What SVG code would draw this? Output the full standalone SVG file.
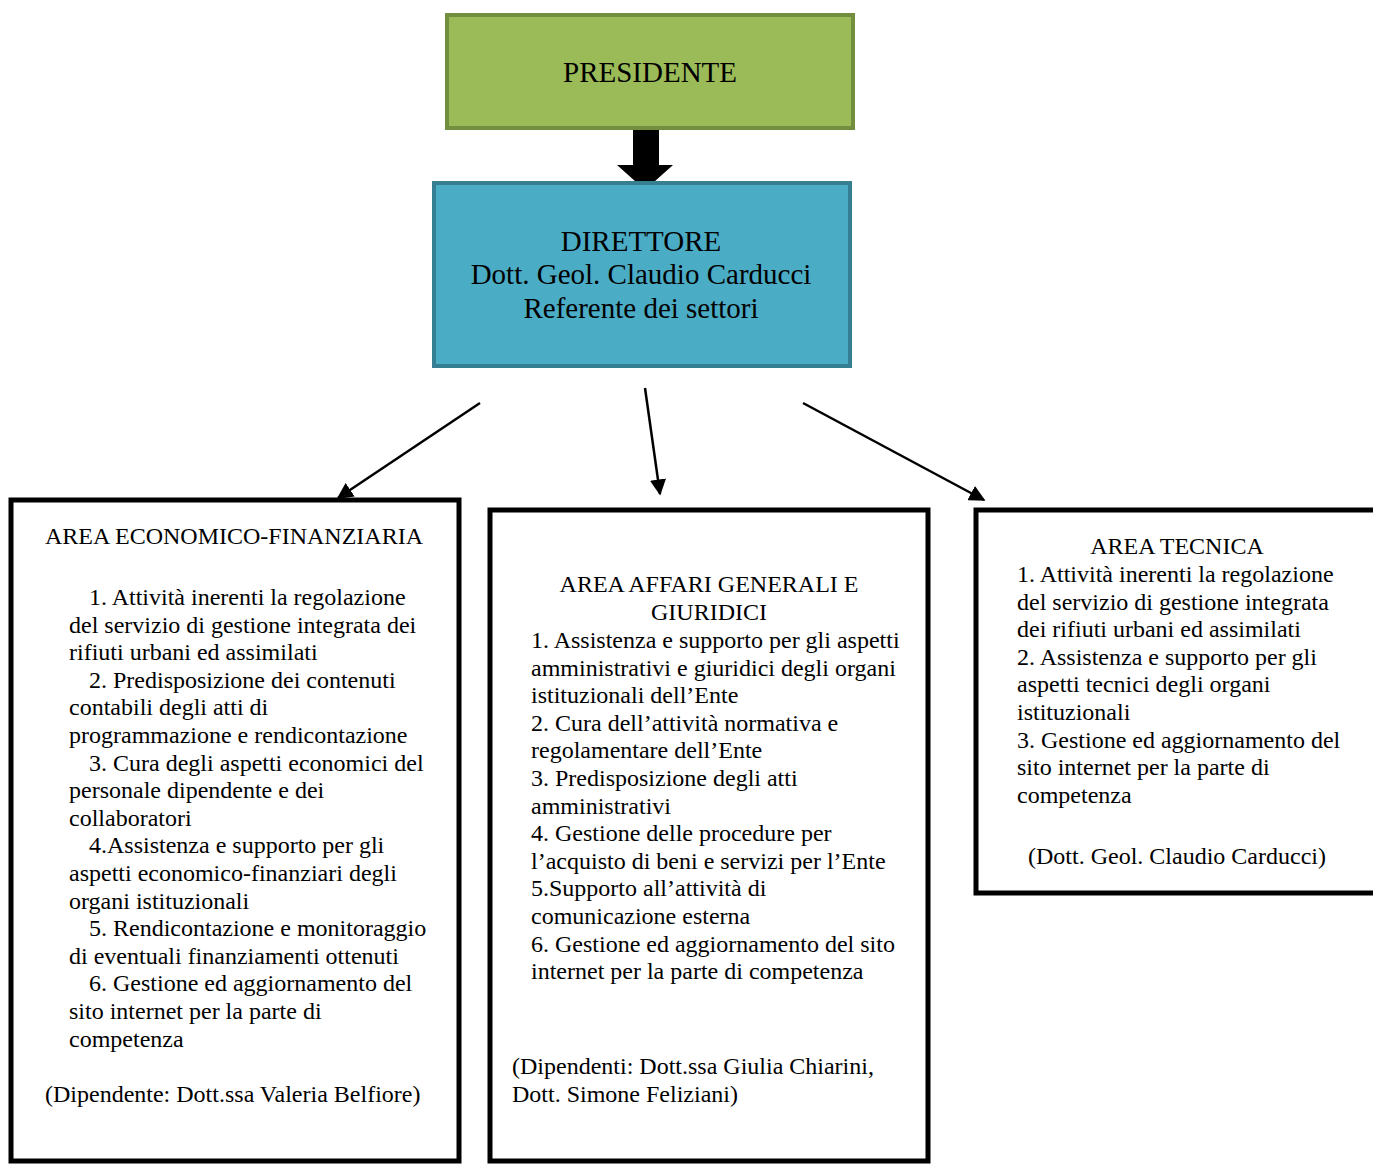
<svg xmlns="http://www.w3.org/2000/svg" width="1373" height="1164" viewBox="0 0 1373 1164">
<style>
text{font-family:"Liberation Serif","Times New Roman",serif;fill:#000}
.big{font-size:29px}
.t{font-size:24px}
.c{text-anchor:middle}
.area{fill:#fff;stroke:#000;stroke-width:5}
.conn{stroke:#000;stroke-width:2.5;fill:none}
</style>
<defs>
<marker id="ah" viewBox="0 0 10 10" refX="9" refY="5" markerWidth="6.5" markerHeight="6.5" markerUnits="strokeWidth" orient="auto">
<path d="M0,0 L10,5 L0,10 z" fill="#000"/>
</marker>
</defs>
<g id="connectors">
<polygon points="633,129 659,129 659,165 673,165 645,190 617,165 633,165" fill="#000"/>
<line class="conn" x1="480" y1="403" x2="338" y2="498" marker-end="url(#ah)"/>
<line class="conn" x1="645" y1="388" x2="660" y2="494" marker-end="url(#ah)"/>
<line class="conn" x1="803" y1="403" x2="984" y2="500" marker-end="url(#ah)"/>
</g>
<g id="presidente">
<rect x="447" y="15" width="406" height="113" fill="#9BBB59" stroke="#748E40" stroke-width="4"/>
<text class="big c" x="650" y="82">PRESIDENTE</text>
</g>
<g id="direttore">
<rect x="434" y="183" width="416" height="183" fill="#4BACC6" stroke="#367F93" stroke-width="4"/>
<text class="big c" x="641" y="251">DIRETTORE</text>
<text class="big c" x="641" y="284">Dott. Geol. Claudio Carducci</text>
<text class="big c" x="641" y="318">Referente dei settori</text>
</g>
<g id="area-economico-finanziaria">
<rect class="area" x="11" y="500" width="448" height="661"/>
<text class="t c" x="234" y="544">AREA ECONOMICO-FINANZIARIA</text>
<text class="t" x="89" y="605">1. Attività inerenti la regolazione</text>
<text class="t" x="69" y="632.6">del servizio di gestione integrata dei</text>
<text class="t" x="69" y="660.2">rifiuti urbani ed assimilati</text>
<text class="t" x="89" y="687.8">2. Predisposizione dei contenuti</text>
<text class="t" x="69" y="715.4">contabili degli atti di</text>
<text class="t" x="69" y="743">programmazione e rendicontazione</text>
<text class="t" x="89" y="770.6">3. Cura degli aspetti economici del</text>
<text class="t" x="69" y="798.2">personale dipendente e dei</text>
<text class="t" x="69" y="825.8">collaboratori</text>
<text class="t" x="89" y="853.4">4.Assistenza e supporto per gli</text>
<text class="t" x="69" y="881">aspetti economico-finanziari degli</text>
<text class="t" x="69" y="908.6">organi istituzionali</text>
<text class="t" x="89" y="936.2">5. Rendicontazione e monitoraggio</text>
<text class="t" x="69" y="963.8">di eventuali finanziamenti ottenuti</text>
<text class="t" x="89" y="991.4">6. Gestione ed aggiornamento del</text>
<text class="t" x="69" y="1019">sito internet per la parte di</text>
<text class="t" x="69" y="1046.6">competenza</text>
<text class="t" x="45" y="1102">(Dipendente: Dott.ssa Valeria Belfiore)</text>
</g>
<g id="area-affari-generali">
<rect class="area" x="490" y="510" width="438" height="651"/>
<text class="t c" x="709" y="592">AREA AFFARI GENERALI E</text>
<text class="t c" x="709" y="620">GIURIDICI</text>
<text class="t" x="531" y="648">1. Assistenza e supporto per gli aspetti</text>
<text class="t" x="531" y="675.6">amministrativi e giuridici degli organi</text>
<text class="t" x="531" y="703.2">istituzionali dell’Ente</text>
<text class="t" x="531" y="730.8">2. Cura dell’attività normativa e</text>
<text class="t" x="531" y="758.4">regolamentare dell’Ente</text>
<text class="t" x="531" y="786">3. Predisposizione degli atti</text>
<text class="t" x="531" y="813.6">amministrativi</text>
<text class="t" x="531" y="841.2">4. Gestione delle procedure per</text>
<text class="t" x="531" y="868.8">l’acquisto di beni e servizi per l’Ente</text>
<text class="t" x="531" y="896.4">5.Supporto all’attività di</text>
<text class="t" x="531" y="924">comunicazione esterna</text>
<text class="t" x="531" y="951.6">6. Gestione ed aggiornamento del sito</text>
<text class="t" x="531" y="979.2">internet per la parte di competenza</text>
<text class="t" x="512" y="1074">(Dipendenti: Dott.ssa Giulia Chiarini,</text>
<text class="t" x="512" y="1102">Dott. Simone Feliziani)</text>
</g>
<g id="area-tecnica">
<rect class="area" x="976" y="510" width="402" height="383"/>
<text class="t c" x="1177" y="554">AREA TECNICA</text>
<text class="t" x="1017" y="582">1. Attività inerenti la regolazione</text>
<text class="t" x="1017" y="609.6">del servizio di gestione integrata</text>
<text class="t" x="1017" y="637.2">dei rifiuti urbani ed assimilati</text>
<text class="t" x="1017" y="664.8">2. Assistenza e supporto per gli</text>
<text class="t" x="1017" y="692.4">aspetti tecnici degli organi</text>
<text class="t" x="1017" y="720">istituzionali</text>
<text class="t" x="1017" y="747.6">3. Gestione ed aggiornamento del</text>
<text class="t" x="1017" y="775.2">sito internet per la parte di</text>
<text class="t" x="1017" y="802.8">competenza</text>
<text class="t c" x="1177" y="864">(Dott. Geol. Claudio Carducci)</text>
</g>
</svg>
